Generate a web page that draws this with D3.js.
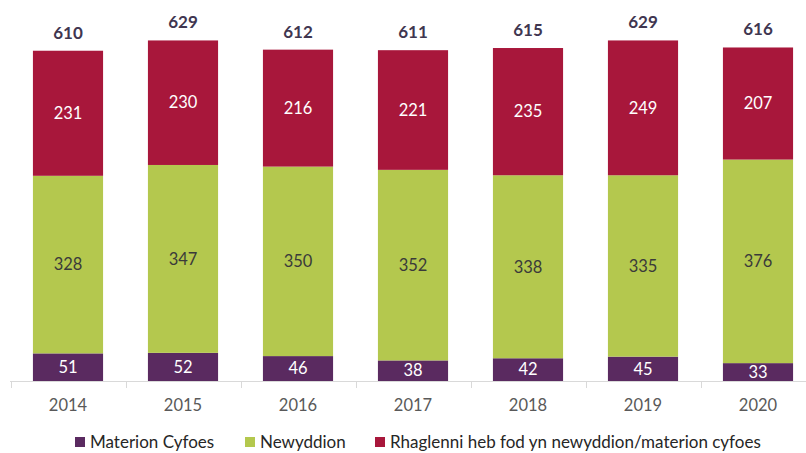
<!DOCTYPE html>
<html>
<head>
<meta charset="utf-8">
<script src="https://d3js.org/d3.v7.min.js"></script>
<style>
  body { margin: 0; background: #fff; }
  text { font-family: Lato, "Open Sans", sans-serif; }
</style>
</head>
<body>
<script>
  var years = ["2014", "2015", "2016", "2017", "2018", "2019", "2020"];
  var materion = [51, 52, 46, 38, 42, 45, 33];
  var newyddion = [328, 347, 350, 352, 338, 335, 376];
  var rhaglenni = [231, 230, 216, 221, 235, 249, 207];
  var seriesNames = ["Materion Cyfoes", "Newyddion", "Rhaglenni heb fod yn newyddion/materion cyfoes"];
  var colors = ["#5a2a60", "#b4c84e", "#a8173b"];
  var labelColors = ["#ffffff", "#3a3a3a", "#ffffff"];

  var width = 806, height = 453;
  var baseY = 381;

  var svg = d3.select("body").append("svg")
      .attr("width", width)
      .attr("height", height);

  var rows = years.map(function(y, i) {
    return {year: y, m: materion[i], n: newyddion[i], r: rhaglenni[i]};
  });
  var stack = d3.stack().keys(["m", "n", "r"])(rows);

  var x = d3.scaleBand()
      .domain(years)
      .range([10.5, 10.5 + 115 * years.length])
      .paddingInner(0.39)
      .paddingOuter(0.195);

  var y = d3.scaleLinear()
      .domain([0, 700])
      .range([baseY, 2]);

  // axis line + ticks between categories
  svg.append("line")
      .attr("x1", 10).attr("x2", width)
      .attr("y1", baseY + 0.5).attr("y2", baseY + 0.5)
      .attr("stroke", "#d9d9d9");
  d3.range(years.length + 1).forEach(function(i) {
    var tx = Math.round(10.5 + i * x.step()) + 0.5;
    svg.append("line")
        .attr("x1", tx).attr("x2", tx)
        .attr("y1", baseY).attr("y2", baseY + 7)
        .attr("stroke", "#d9d9d9");
  });

  stack.forEach(function(layer, k) {
    var g = svg.append("g");
    g.selectAll("rect")
      .data(layer)
      .enter().append("rect")
        .attr("x", function(d) { return x(d.data.year); })
        .attr("width", x.bandwidth())
        .attr("y", function(d) { return y(d[1]); })
        .attr("height", function(d) { return y(d[0]) - y(d[1]); })
        .attr("fill", colors[k]);
    g.selectAll("text")
      .data(layer)
      .enter().append("text")
        .attr("x", function(d) { return x(d.data.year) + x.bandwidth() / 2; })
        .attr("y", function(d) { return (y(d[0]) + y(d[1])) / 2; })
        .attr("dy", "0.35em")
        .attr("text-anchor", "middle")
        .attr("font-size", 16.5)
        .attr("fill", labelColors[k])
        .text(function(d) { return d[1] - d[0]; });
  });

  // totals
  svg.selectAll(".total")
    .data(rows)
    .enter().append("text")
      .attr("class", "total")
      .attr("x", function(d) { return x(d.year) + x.bandwidth() / 2; })
      .attr("y", function(d) { return y(d.m + d.n + d.r) - 12; })
      .attr("text-anchor", "middle")
      .attr("font-size", 17)
      .attr("font-weight", "bold")
      .attr("fill", "#403650")
      .text(function(d) { return d.m + d.n + d.r; });

  // year labels
  svg.selectAll(".year")
    .data(years)
    .enter().append("text")
      .attr("class", "year")
      .attr("x", function(d) { return x(d) + x.bandwidth() / 2; })
      .attr("y", 405)
      .attr("dy", "0.35em")
      .attr("text-anchor", "middle")
      .attr("font-size", 16.5)
      .attr("fill", "#595959")
      .text(function(d) { return d; });

  // legend
  var legendX = [75, 245, 375];
  seriesNames.forEach(function(name, i) {
    var lg = svg.append("g").attr("transform", "translate(" + legendX[i] + ",442)");
    lg.append("rect")
      .attr("x", 0).attr("y", -5)
      .attr("width", 10).attr("height", 10)
      .attr("fill", colors[i]);
    lg.append("text")
      .attr("x", 15)
      .attr("dy", "0.35em")
      .attr("font-size", 17)
      .attr("fill", "#262626")
      .text(name);
  });
</script>
</body>
</html>
